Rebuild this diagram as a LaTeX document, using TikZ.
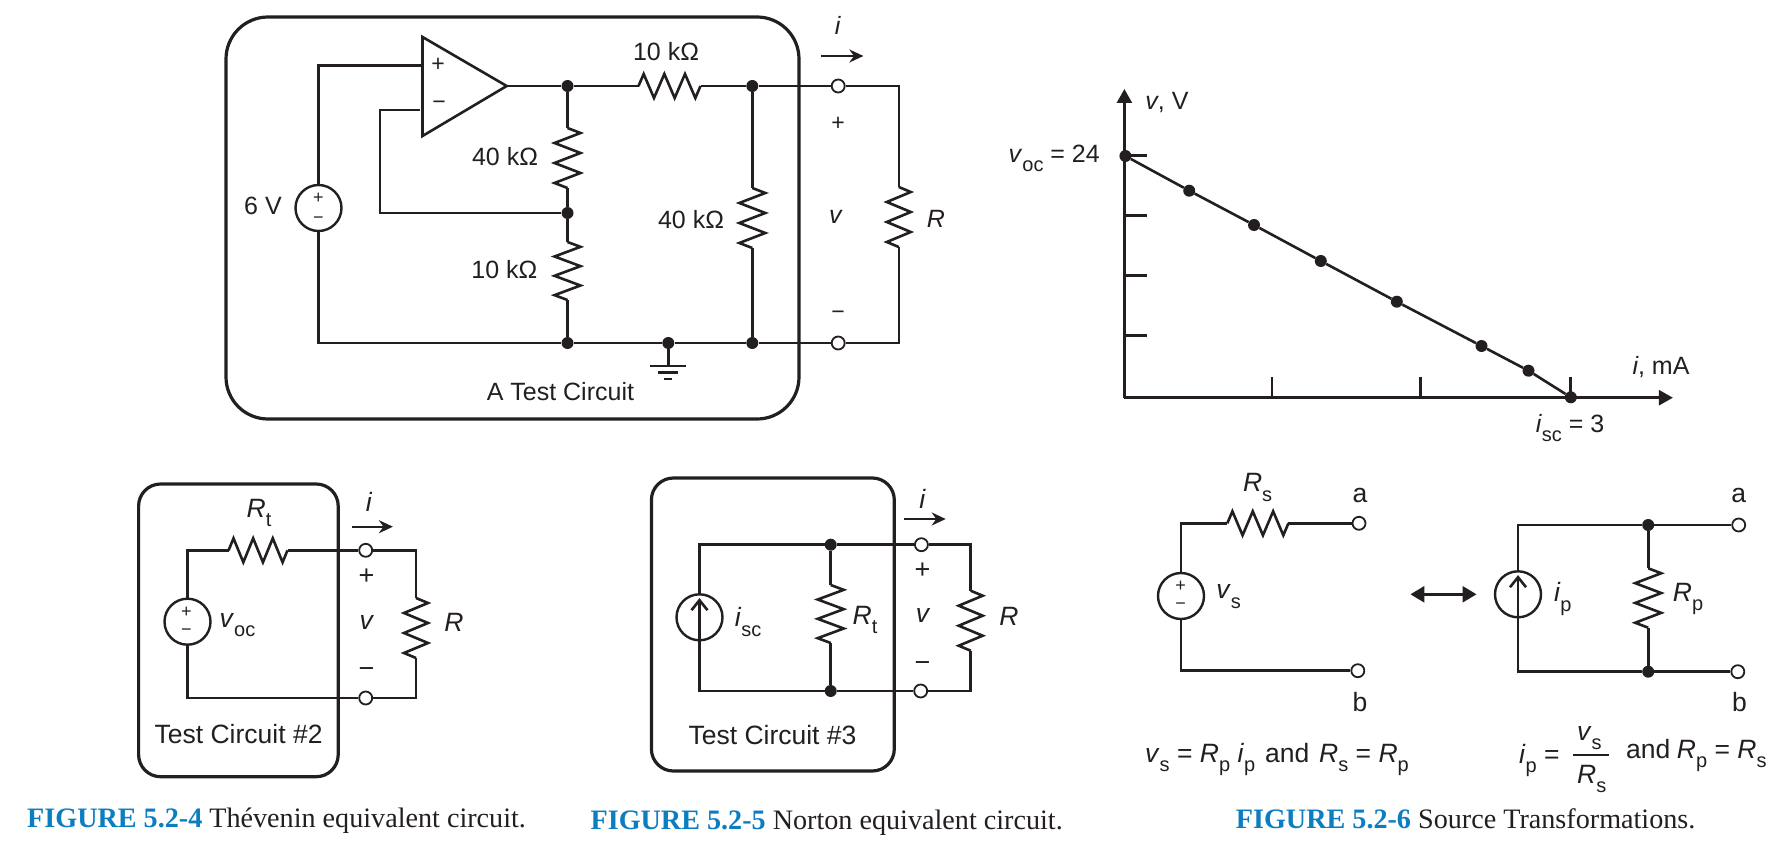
\documentclass[tikz,border=0pt]{standalone}
\usepackage{fontspec}
\setmainfont{Liberation Sans}
\newfontfamily\capfont{Liberation Serif}
\usetikzlibrary{calc,arrows.meta}
\definecolor{capblue}{HTML}{0B7DC1}
\definecolor{ink}{HTML}{231F20}
\newcommand\sbs[1]{\raisebox{-0.36em}{\fontsize{20}{22}\selectfont #1}}
\newcommand\var[1]{\textit{#1}}
\newcommand\Resistor[3][12pt]{%
  \draw[wire] (#2)
   -- ($(#2)!1/12!(#3)!#1!90:(#3)$)
   -- ($(#2)!3/12!(#3)!#1!-90:(#3)$)
   -- ($(#2)!5/12!(#3)!#1!90:(#3)$)
   -- ($(#2)!7/12!(#3)!#1!-90:(#3)$)
   -- ($(#2)!9/12!(#3)!#1!90:(#3)$)
   -- ($(#2)!11/12!(#3)!#1!-90:(#3)$)
   -- (#3);}
\tikzset{
  wire/.style={draw=ink,line width=2.6pt,line join=miter},
  cbox/.style={draw=ink,line width=3.2pt},
  jdot/.style={circle,fill=ink,inner sep=0pt,minimum size=12pt},
  termc/.style={circle,draw=ink,fill=white,line width=1.8pt,inner sep=0pt,minimum size=13pt},
  src/.style={circle,draw=ink,line width=2.4pt,fill=white,inner sep=0pt,minimum size=46pt},
  lbl/.style={inner sep=0pt,text=ink,font=\fontsize{25}{30}\selectfont},
  lblb/.style={inner sep=0pt,text=ink,font=\fontsize{26.5}{30}\selectfont},
  smalllbl/.style={inner sep=0pt,text=ink,font=\fontsize{18}{20}\selectfont},
  pmlbl/.style={inner sep=0pt,text=ink,font=\fontsize{23}{24}\selectfont},
  pmlblb/.style={inner sep=0pt,text=ink,font=\fontsize{27}{28}\selectfont},
  captxt/.style={inner sep=0pt,anchor=base west,text=ink,font=\capfont\fontsize{28.15}{32}\selectfont},
  iarrow/.style={draw=ink,line width=2.4pt,-{Stealth[length=14pt,width=13pt]}},
  axisline/.style={draw=ink,line width=2.6pt,-{Triangle[length=14pt,width=15pt]}},
  tickline/.style={draw=ink,line width=2.6pt},
  srcarrow/.style={wire,shorten >=5pt,-{Straight Barb[length=10pt,width=16pt]}},
}
\begin{document}
\begin{tikzpicture}[x=1pt,y=-1pt]
\useasboundingbox (0,0) rectangle (1780,848);
\fill[white] (0,0) rectangle (1780,848);

% ---------- A Test Circuit
\draw[cbox,rounded corners=42pt] (226,17) rectangle (799,419);
\coordinate (oA) at (422.5,37);
\coordinate (oB) at (422.5,136);
\coordinate (oT) at (506.7,86);
\coordinate (oP) at (422.5,65.5);
\coordinate (oN) at (420,110);
\coordinate (fb) at (380,110);
\draw[wire] (oA) -- (oT) -- (oB) -- cycle;
\node[src] (s1) at (318.5,208) {};
\node[jdot] (n1) at (567.5,86) {};
\node[jdot] (n2) at (567.5,213) {};
\node[jdot] (n3) at (567.5,343) {};
\node[jdot] (n4) at (752.3,86) {};
\node[jdot] (n5) at (752.3,343) {};
\node[jdot] (n6) at (668.3,343) {};
\node[termc] (t1) at (838.2,86) {};
\node[termc] (t2) at (838.2,343) {};
\coordinate (a1) at (638.5,86);
\coordinate (a2) at (700.5,86);
\coordinate (b1) at (567.5,128);
\coordinate (b2) at (567.5,188);
\coordinate (c1) at (567.5,242);
\coordinate (c2) at (567.5,300);
\coordinate (d1) at (752.3,188);
\coordinate (d2) at (752.3,248);
\coordinate (e0) at (898.8,86);
\coordinate (e1) at (898.8,187);
\coordinate (e2) at (898.8,247);
\coordinate (e3) at (898.8,343);
\coordinate (g0) at (668.3,366);
\draw[wire] (s1.north) |- (oP);
\draw[wire] (oN) -- (fb) |- (n2);
\draw[wire] (s1.south) |- (n3);
\draw[wire] (oT) -- (n1) -- (a1);
\Resistor{a1}{a2}
\draw[wire] (a2) -- (n4) -- (t1) -- (e0) -- (e1);
\Resistor{e1}{e2}
\draw[wire] (e2) -- (e3) -- (t2) -- (n5) -- (n6) -- (n3);
\draw[wire] (n1) -- (b1);
\Resistor[13pt]{b1}{b2}
\draw[wire] (b2) -- (n2) -- (c1);
\Resistor[13pt]{c1}{c2}
\draw[wire] (c2) -- (n3);
\draw[wire] (n4) -- (d1);
\Resistor[13pt]{d1}{d2}
\draw[wire] (d2) -- (n5);
\draw[wire] (n6) -- (g0);
\draw[wire] (650,366) -- (686,366);
\draw[wire] (658,372.5) -- (678,372.5);
\draw[wire] (664,379) -- (672,379);
\node[pmlbl] (lp1) at (438,65) {+};
\node[pmlbl] (lm1) at (439,105) {−};
\node[smalllbl] (sp1) at (318.5,198) {+};
\node[smalllbl] (sm1) at (318.5,220) {−};
\node[lbl] (l1) at (666,52) {10 kΩ};
\node[lbl] (l2) at (505,157) {40 kΩ};
\node[lbl] (l3) at (691,220) {40 kΩ};
\node[lbl] (l4) at (504.4,270) {10 kΩ};
\node[lbl] (l5) at (263,206) {6 V};
\node[lbl] (l6) at (560.4,392) {A Test Circuit};
\node[lbl] (l7) at (838,25) {\var{i}};
\coordinate (ar1) at (820.7,56);
\coordinate (ar2) at (863.4,56);
\draw[iarrow] (ar1) -- (ar2);
\node[pmlbl] (l8) at (838.2,124) {+};
\node[lbl] (l9) at (836,217) {\var{v}};
\node[pmlbl] (l10) at (838.2,315) {−};
\node[lbl] (l11) at (936,219) {\var{R}};

% ---------- Graph
\coordinate (org) at (1124.4,397.7);
\coordinate (yt) at (1124.4,89);
\coordinate (xt) at (1672.9,397.7);
\draw[axisline] (org) -- (yt);
\draw[axisline] (org) -- (xt);
\draw[tickline] (1124.4,155.7) -- (1147,155.7);
\draw[tickline] (1124.4,215.7) -- (1147,215.7);
\draw[tickline] (1124.4,275.7) -- (1147,275.7);
\draw[tickline] (1124.4,335.7) -- (1147,335.7);
\draw[tickline] (1271.8,397.7) -- (1271.8,377);
\draw[tickline] (1420.3,397.7) -- (1420.3,377);
\draw[tickline] (1570.3,397.7) -- (1570.3,377);
\node[jdot] (p0) at (1125.4,156) {};
\node[jdot] (p1) at (1189.2,190.7) {};
\node[jdot] (p2) at (1254,225) {};
\node[jdot] (p3) at (1320.8,261) {};
\node[jdot] (p4) at (1396.8,301.7) {};
\node[jdot] (p5) at (1481.5,346) {};
\node[jdot] (p6) at (1528.5,370.7) {};
\node[jdot] (p7) at (1570.8,397.3) {};
\draw[wire] (p0) -- (p1) -- (p2) -- (p3) -- (p4) -- (p5) -- (p6) -- (p7);
\node[lbl] (g1) at (1167,103) {\var{v}, V};
\node[lbl,anchor=east] (g2) at (1100,158) {\var{v}\sbs{oc} = 24};
\node[lbl] (g3) at (1661,367) {\var{i}, mA};
\node[lbl] (g4) at (1570,428) {\var{i}\sbs{sc} = 3};

% ---------- Test Circuit #2
\draw[cbox,rounded corners=22pt] (138.6,484) rectangle (338.2,776.7);
\node[src] (s2) at (187.5,621.7) {};
\node[termc] (t3) at (365.7,550.3) {};
\node[termc] (t4) at (365.7,698) {};
\coordinate (f1) at (228.6,550.3);
\coordinate (f2) at (287.5,550.3);
\coordinate (h0) at (416,550.3);
\coordinate (h1) at (416,598);
\coordinate (h2) at (416,658);
\coordinate (h3) at (416,698);
\draw[wire] (s2.north) |- (f1);
\Resistor{f1}{f2}
\draw[wire] (f2) -- (t3) -- (h0) -- (h1);
\Resistor{h1}{h2}
\draw[wire] (h2) -- (h3) -- (t4) -| (s2.south);
\node[smalllbl] (sp2) at (186.5,612) {+};
\node[smalllbl] (sm2) at (186.5,632) {−};
\node[lblb] (m1) at (259,513) {\var{R}\sbs{t}};
\node[lblb] (m2) at (369,502) {\var{i}};
\coordinate (ar3) at (351.8,526.7);
\coordinate (ar4) at (392.9,526.7);
\draw[iarrow] (ar3) -- (ar4);
\node[pmlblb] (m3) at (366.4,577) {+};
\node[lblb] (m4) at (367,622) {\var{v}};
\node[pmlblb] (m5) at (366.4,673) {−};
\node[lblb] (m6) at (454,622.5) {\var{R}};
\node[lblb] (m7) at (237.5,625) {\var{v}\sbs{oc}};
\node[lblb] (m8) at (238.6,734) {Test Circuit \#2};
\node[captxt] (c41) at (27,827) {\textcolor{capblue}{\textbf{FIGURE 5.2-4}} Thévenin equivalent circuit.};

% ---------- Test Circuit #3
\draw[cbox,rounded corners=22pt] (651.4,478) rectangle (894.3,771);
\node[src] (s3) at (699.5,617.3) {};
\node[jdot] (n7) at (830.7,544.7) {};
\node[jdot] (n8) at (830.7,691) {};
\node[termc] (t5) at (921.4,544.7) {};
\node[termc] (t6) at (920.7,691) {};
\coordinate (i1) at (830.7,585);
\coordinate (i2) at (830.7,643);
\coordinate (j0) at (970.7,544.7);
\coordinate (j1) at (970.7,590.7);
\coordinate (j2) at (970.7,650.7);
\coordinate (j3) at (970.7,691);
\draw[wire] (s3.north) |- (n7);
\draw[wire] (n7) -- (t5) -- (j0) -- (j1);
\Resistor{j1}{j2}
\draw[wire] (j2) -- (j3) -- (t6) -- (n8) -| (s3.south);
\draw[wire] (n7) -- (i1);
\Resistor[13pt]{i1}{i2}
\draw[wire] (i2) -- (n8);
\draw[srcarrow] (s3.south) -- (s3.north);
\node[lblb] (q1) at (748,622) {\var{i}\sbs{sc}};
\node[lblb] (q2) at (865,620) {\var{R}\sbs{t}};
\node[lblb] (q3) at (922.5,499) {\var{i}};
\coordinate (ar5) at (903.6,519);
\coordinate (ar6) at (945.7,519);
\draw[iarrow] (ar5) -- (ar6);
\node[pmlblb] (q4) at (922.5,571) {+};
\node[lblb] (q5) at (923,615.7) {\var{v}};
\node[pmlblb] (q6) at (922.5,667) {−};
\node[lblb] (q7) at (1009,616) {\var{R}};
\node[lblb] (q8) at (772.5,735) {Test Circuit \#3};
\node[captxt] (c51) at (590.4,829) {\textcolor{capblue}{\textbf{FIGURE 5.2-5}} Norton equivalent circuit.};

% ---------- Source transformations
\node[src] (s4) at (1181,596) {};
\node[termc] (t7) at (1359,523.3) {};
\node[termc] (t8) at (1357.8,670.7) {};
\coordinate (k1) at (1227.3,523.3);
\coordinate (k2) at (1288.4,523.3);
\draw[wire] (s4.north) |- (k1);
\Resistor{k1}{k2}
\draw[wire] (k2) -- (t7);
\draw[wire] (s4.south) |- (t8);
\node[smalllbl] (sp4) at (1180.5,586) {+};
\node[smalllbl] (sm4) at (1180.5,606) {−};
\node[src] (s5) at (1518,594.3) {};
\node[jdot] (n9) at (1648.2,525) {};
\node[jdot] (n10) at (1648.2,671.7) {};
\node[termc] (t9) at (1738.7,525) {};
\node[termc] (t10) at (1737.8,671.7) {};
\coordinate (r1) at (1648.2,568.3);
\coordinate (r2) at (1648.2,627.7);
\draw[wire] (s5.north) |- (n9);
\draw[wire] (s5.south) |- (n10);
\draw[wire] (n9) -- (t9);
\draw[wire] (n10) -- (t10);
\draw[wire] (n9) -- (r1);
\Resistor[13pt]{r1}{r2}
\draw[wire] (r2) -- (n10);
\draw[srcarrow] (s5.south) -- (s5.north);
\coordinate (ar7) at (1410.4,594.3);
\coordinate (ar8) at (1476.5,594.3);
\draw[draw=ink,line width=2.6pt,{Triangle[length=14pt,width=16pt]}-{Triangle[length=14pt,width=16pt]}] (ar7) -- (ar8);
\node[lblb] (u1) at (1257.6,487.7) {\var{R}\sbs{s}};
\node[lblb] (u2) at (1360,495) {a};
\node[lblb] (u3) at (1360,701.7) {b};
\node[lblb] (u4) at (1228.6,596.7) {\var{v}\sbs{s}};
\node[lblb] (u5) at (1738.7,495) {a};
\node[lblb] (u6) at (1739.5,701.7) {b};
\node[lblb] (u7) at (1562.8,599) {\var{i}\sbs{p}};
\node[lblb] (u8) at (1688,599) {\var{R}\sbs{p}};
\node[lblb,anchor=base west] (e1a) at (1145,762) {\var{v}\sbs{s} = \var{R}\sbs{p} \var{i}\sbs{p}};
\node[lblb,anchor=base west] (e1b) at (1265,762) {and};
\node[lblb,anchor=base west] (e1c) at (1319,762) {\var{R}\sbs{s} = \var{R}\sbs{p}};
\node[lblb,anchor=base west] (e2a) at (1519,763) {\var{i}\sbs{p} =};
\node[lblb,anchor=base west] (e2b) at (1577,740) {\var{v}\sbs{s}};
\coordinate (fr1) at (1573,755);
\coordinate (fr2) at (1609,755);
\draw[draw=ink,line width=1.8pt] (fr1) -- (fr2);
\node[lblb,anchor=base west] (e2c) at (1577,783) {\var{R}\sbs{s}};
\node[lblb,anchor=base west] (e2d) at (1626,758) {and};
\node[lblb,anchor=base west] (e2e) at (1676.7,758) {\var{R}\sbs{p} = \var{R}\sbs{s}};
\node[captxt] (c61) at (1235.7,828) {\textcolor{capblue}{\textbf{FIGURE 5.2-6}} Source Transformations.};
\end{tikzpicture}
\end{document}
